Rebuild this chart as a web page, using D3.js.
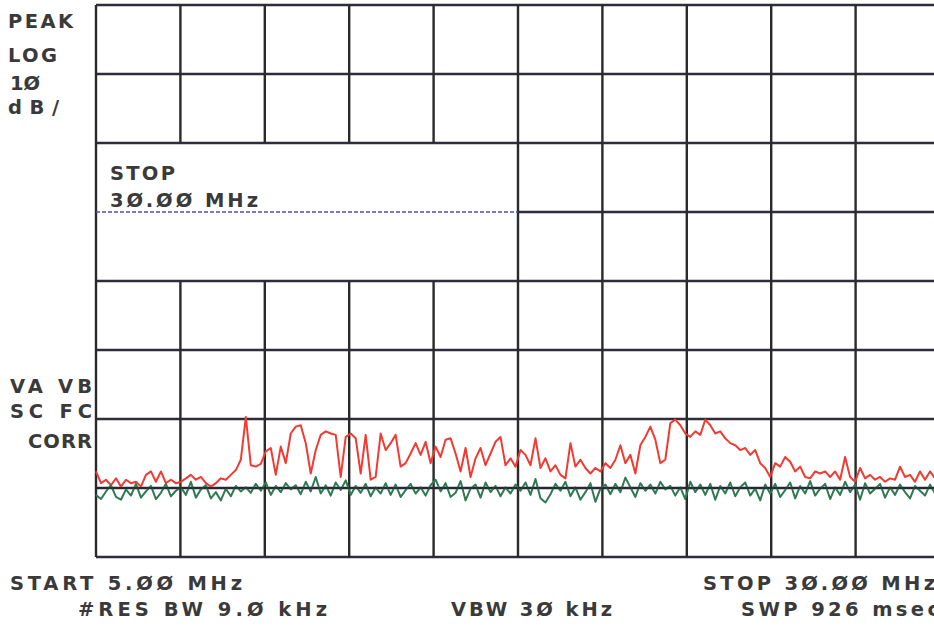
<!DOCTYPE html>
<html>
<head>
<meta charset="utf-8">
<script src="https://cdn.jsdelivr.net/npm/d3@7"></script>
<style>
  html, body { margin: 0; padding: 0; background: #fff; overflow: hidden; }
  svg { display: block; }
  text { font-family: 'DejaVu Sans', sans-serif; font-weight: bold; fill: #3a3a3a; font-size: 19.5px; }
</style>
</head>
<body>
<svg id="chart" width="934" height="627"></svg>
<script>
// sweep settings
const startMHz = 5
const stopMHz = 30
const sweepPoints = 170

// graticule: 10 dB/div, 8 divisions, 10 freq divisions
const freqGrid = [5, 7.5, 10, 12.5, 15, 17.5, 20, 22.5, 25, 27.5, 30]
const levelGrid = [0, 10, 20, 30, 40, 50, 60, 70, 80]
const displayLine = 50

// trace A (red), dB above bottom graticule line
const traceA = [
  12.4, 10.7, 11.2, 10.4, 11.4, 10.2, 11.2, 10.7, 10.9, 10.2,
  11.9, 12.4, 10.9, 12.4, 10.7, 11.2, 10.7, 10.9, 11.4, 11.9,
  11.2, 11.6, 10.7, 10.2, 10.7, 11.4, 11.2, 11.9, 12.6, 14.1,
  20.3, 13.3, 13.1, 13.5, 15.3, 15.8, 11.9, 16.0, 13.6, 17.9,
  18.9, 19.1, 16.5, 12.1, 15.5, 17.7, 18.2, 17.9, 17.7, 11.6,
  17.4, 17.9, 17.2, 12.1, 17.7, 11.2, 11.6, 17.9, 15.5, 16.5,
  17.7, 13.1, 13.6, 15.0, 16.5, 14.8, 16.7, 13.6, 16.0, 14.5,
  17.0, 17.2, 15.0, 12.4, 15.8, 11.6, 14.3, 15.8, 13.3, 15.0,
  16.7, 17.4, 13.3, 14.3, 13.1, 15.5, 14.8, 13.3, 17.2, 12.9,
  14.3, 12.4, 13.3, 11.9, 11.4, 16.5, 13.1, 14.1, 12.9, 12.1,
  12.9, 12.4, 13.6, 12.9, 14.1, 16.2, 13.6, 14.8, 12.1, 16.2,
  17.4, 18.9, 17.0, 13.6, 14.1, 19.4, 19.9, 19.1, 17.9, 17.4,
  18.2, 17.7, 19.9, 19.1, 17.9, 18.2, 17.2, 16.5, 16.2, 15.5,
  15.8, 14.8, 15.5, 13.6, 12.9, 11.6, 13.6, 13.1, 14.5, 13.8,
  12.4, 13.1, 11.6, 11.4, 12.4, 12.1, 12.4, 11.6, 12.4, 11.2,
  14.5, 11.6, 10.9, 12.9, 11.4, 11.9, 11.2, 11.6, 10.9, 11.4,
  11.2, 13.1, 11.6, 11.9, 10.9, 12.4, 11.2, 12.4, 11.4, 11.9
]

// trace B (green)
const traceB = [
  9.0, 8.4, 9.5, 10.4, 8.7, 8.3, 9.8, 8.9, 10.6, 8.6,
  9.5, 10.3, 8.4, 9.3, 10.6, 8.8, 9.6, 10.1, 9.0, 10.9,
  8.6, 9.8, 10.4, 8.5, 9.4, 8.2, 9.9, 8.8, 10.3, 9.5,
  10.1, 9.3, 10.6, 9.6, 10.8, 9.0, 10.3, 9.4, 10.7, 9.8,
  10.4, 9.1, 10.9, 9.5, 11.6, 9.2, 10.4, 8.9, 10.8, 9.7,
  11.1, 9.0, 10.3, 9.3, 10.6, 8.8, 10.1, 9.2, 10.7, 9.0,
  10.5, 8.7, 9.7, 10.6, 9.2, 10.1, 8.9, 10.4, 11.2, 9.5,
  10.7, 8.7, 9.3, 11.0, 8.2, 9.9, 10.5, 8.6, 10.8, 9.4,
  10.3, 8.8, 10.1, 9.2, 10.5, 9.6, 10.8, 9.0, 11.3, 8.5,
  7.9, 9.1, 10.6, 9.6, 10.9, 8.8, 10.1, 8.3, 9.4, 10.7,
  8.0, 9.9, 10.5, 9.1, 10.6, 9.4, 11.5, 10.1, 8.7, 10.7,
  9.6, 10.5, 9.2, 10.9, 9.8, 10.3, 8.9, 10.1, 8.4, 10.9,
  9.4, 10.5, 9.0, 10.6, 8.3, 10.3, 9.2, 10.8, 8.8, 10.1,
  10.8, 8.9, 9.9, 8.2, 10.5, 9.2, 10.6, 8.7, 9.7, 10.8,
  8.5, 10.3, 9.2, 11.0, 8.9, 9.9, 10.6, 8.4, 10.1, 9.0,
  10.9, 9.4, 10.5, 8.3, 10.7, 9.2, 9.9, 10.6, 8.6, 10.1,
  9.0, 10.5, 9.4, 8.5, 10.3, 9.6, 8.9, 10.5, 9.2, 10.1
]

// annotation texts
const modeLabels = ['PEAK', 'LOG', '1Ø', 'dB/']
const markerLabels = ['STOP', '3Ø.ØØ MHz']
const detectorLabels = ['VA VB', 'SC FC', 'CORR']
const footerLabels = ['START 5.ØØ MHz', 'STOP 3Ø.ØØ MHz', '#RES BW 9.Ø kHz', 'VBW 3Ø kHz', 'SWP 926 msec']

const svg = d3.select('#chart')

const x = d3.scaleLinear().domain([startMHz, stopMHz]).range([96, 940])
const y = d3.scaleLinear().domain([0, 80]).range([557, 5])
const step = (stopMHz - startMHz) / (sweepPoints - 1)

// gridlines (annotation box left open between 40 and 60 dB for 7.5..15 MHz)
const vSegs = []
freqGrid.forEach(f => {
  if (f > 5 && f < 17.5) {
    vSegs.push([f, 80, 60])
    vSegs.push([f, 40, 0])
  } else {
    vSegs.push([f, 80, 0])
  }
})
const hSegs = []
levelGrid.forEach(l => {
  if (l === displayLine) hSegs.push([l, 17.5, 30])
  else hSegs.push([l, 5, 30])
})

const grid = svg.append('g').attr('class', 'grid')
grid.selectAll('line.h')
  .data(hSegs)
  .enter()
  .append('line')
  .attr('class', 'h')
  .attr('x1', d => x(d[1]))
  .attr('x2', d => x(d[2]))
  .attr('y1', d => y(d[0]))
  .attr('y2', d => y(d[0]))
  .attr('stroke', '#2f2c3c')
  .attr('stroke-width', 2.3)

grid.selectAll('line.v')
  .data(vSegs)
  .enter()
  .append('line')
  .attr('class', 'v')
  .attr('x1', d => x(d[0]))
  .attr('x2', d => x(d[0]))
  .attr('y1', d => y(d[1]))
  .attr('y2', d => y(d[2]))
  .attr('stroke', '#2a2a2a')
  .attr('stroke-width', 2.4)

// display line, dotted blue
svg.append('line')
  .attr('x1', x(5))
  .attr('x2', x(17.5))
  .attr('y1', y(displayLine))
  .attr('y2', y(displayLine))
  .attr('stroke', '#4a4fc8')
  .attr('stroke-width', 1.6)
  .attr('stroke-dasharray', '4,2')

const line = d3.line()
  .x((d, i) => x(startMHz + i * step))
  .y(d => y(d))

svg.append('path')
  .datum(traceA)
  .attr('d', line)
  .attr('fill', 'none')
  .attr('stroke', '#f23a32')
  .attr('stroke-width', 2)
  .attr('stroke-linejoin', 'round')

svg.append('path')
  .datum(traceB)
  .attr('d', line)
  .attr('fill', 'none')
  .attr('stroke', '#2f7a52')
  .attr('stroke-width', 2)
  .attr('stroke-linejoin', 'round')

// baseline redrawn thin on top like the plotter did
svg.append('line')
  .attr('x1', x(5))
  .attr('x2', x(30))
  .attr('y1', y(10))
  .attr('y2', y(10))
  .attr('stroke', '#262430')
  .attr('stroke-width', 1.5)

function label (txt, px, py, len) {
  svg.append('text')
    .attr('x', px)
    .attr('y', py)
    .attr('textLength', len)
    .attr('lengthAdjust', 'spacing')
    .text(txt)
}

label(modeLabels[0], 8, 28, 65)
label(modeLabels[1], 8, 62, 49)
label(modeLabels[2], 10, 90, 30)
label(modeLabels[3], 8, 114, 51)

label(markerLabels[0], 110, 180, 65)
label(markerLabels[1], 110, 207, 148)

label(detectorLabels[0], 10, 393, 82)
label(detectorLabels[1], 10, 418, 82)
label(detectorLabels[2], 28, 448, 64)

label(footerLabels[0], 10, 590, 232)
label(footerLabels[1], 703, 590, 232)
label(footerLabels[2], 78, 616, 249)
label(footerLabels[3], 451, 616, 161)
label(footerLabels[4], 741, 616, 198)
</script>
</body>
</html>
